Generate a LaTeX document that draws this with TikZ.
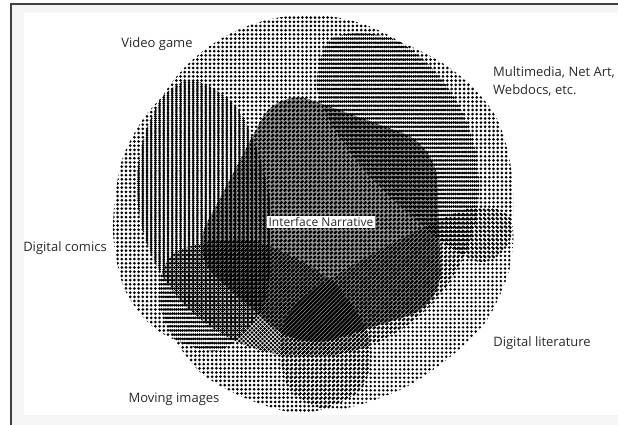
\documentclass[tikz,border=0pt]{standalone}
\usepackage{fontspec}
\setmainfont{Open Sans}
\usepackage{xcolor}
\usepackage{tikz}
\usetikzlibrary{patterns.meta, positioning, calc}
\newcommand{\dotcolor}{black}
\definecolor{labelgray}{HTML}{2A2A2A}

\begin{document}
\begin{tikzpicture}[x=1pt, y=-1pt]
	\tikzstyle{labelc}=[text=labelgray, font=\fontsize{13}{18}\selectfont, inner sep=0pt]
	\tikzstyle{dotsa}=[pattern={Dots[distance=4.2pt, radius=1.5pt]}, pattern color=\dotcolor]
	\tikzstyle{dotsb}=[pattern={Dots[distance=4.2pt, radius=1.5pt, xshift=2.1pt]}, pattern color=\dotcolor]
	\tikzstyle{dotsc}=[pattern={Dots[distance=4.2pt, radius=1.5pt, yshift=2.1pt]}, pattern color=\dotcolor]
	\tikzstyle{dotsd}=[pattern={Dots[distance=4.2pt, radius=1.5pt, xshift=2.1pt, yshift=2.1pt]}, pattern color=\dotcolor]
	\tikzstyle{dotse}=[pattern={Dots[distance=4.2pt, radius=1.4pt, xshift=1.05pt, yshift=1.05pt]}, pattern color=\dotcolor]
	\tikzstyle{dotsf}=[pattern={Dots[distance=4.2pt, radius=1.4pt, xshift=3.15pt, yshift=3.15pt]}, pattern color=\dotcolor, preaction={fill=black, fill opacity=0.4}]

	\useasboundingbox (0,0) rectangle (618,425);
	\fill[black!4] (11,4) rectangle (618,425);
	\fill[white] (24,13) rectangle (618,415);
	\draw[black!75, line width=1.2pt] (11,425) -- (11,4) -- (618,4);

	%% video game
	\fill[dotsa] (308,186) circle (171);
	%% multimedia
	\fill[dotsb] plot[smooth cycle] coordinates {(330,40) (383,36) (450,68) (495,115) (512,175) (510,240) (480,262) (430,232) (360,165) (318,95)};
	%% digital comics
	\fill[dotsc] plot[smooth cycle] coordinates {(190,80) (240,112) (270,200) (265,300) (220,350) (160,332) (125,290) (113,230) (122,160) (150,110)};
	%% moving images
	\fill[dotsd] plot[smooth cycle] coordinates {(180,250) (250,240) (330,280) (370,340) (360,390) (305,413) (250,400) (200,372) (165,322) (160,280)};
	%% digital literature
	\fill[dotse] plot[smooth cycle] coordinates {(300,300) (380,250) (470,208) (510,218) (510,267) (487,320) (450,357) (400,390) (333,410) (290,390) (280,340)};
	%% interface narrative
	\fill[dotsf, rounded corners=35pt] (278,88) -- (436,145) -- (442,305) -- (300,350) -- (190,255) -- cycle;

	\node (vg) at (157,44) [labelc]{Video game};
	\node (mm) at (493,81) [labelc, anchor=west, align=left]{Multimedia, Net Art,\\Webdocs, etc.};
	\node (dc) at (65,248) [labelc]{Digital comics};
	\node (mi) at (174,399) [labelc]{Moving images};
	\node (dl) at (542,343) [labelc]{Digital literature};
	\node (in) at (321,222) [labelc, fill=white, font=\fontsize{12}{14}\selectfont, inner xsep=2pt, inner ysep=1.5pt]{Interface Narrative};
\end{tikzpicture}
\end{document}
